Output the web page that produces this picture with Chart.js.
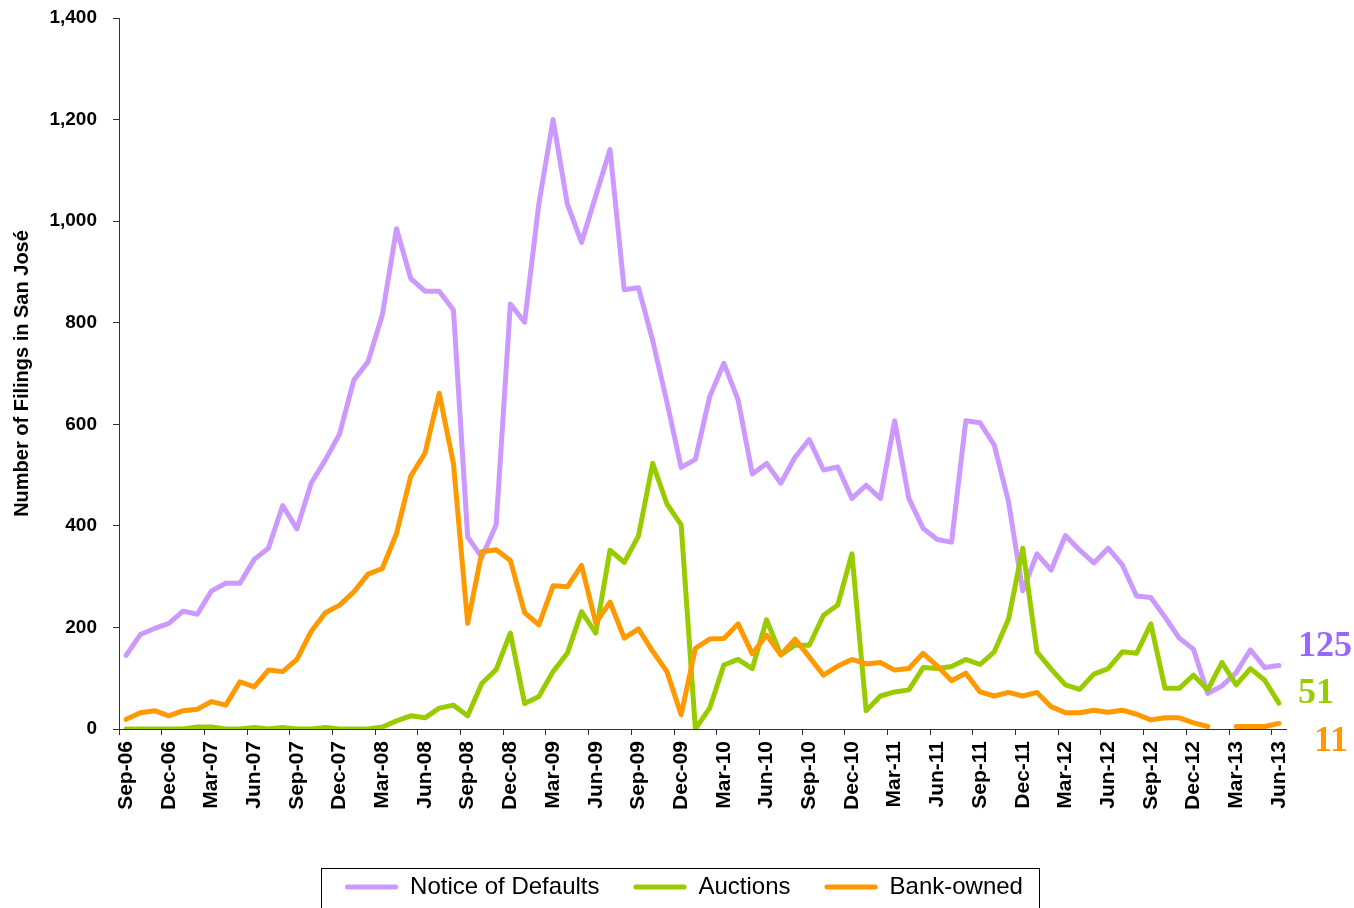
<!DOCTYPE html>
<html>
<head>
<meta charset="utf-8">
<script src="https://cdn.jsdelivr.net/npm/chart.js@4.4.1/dist/chart.umd.min.js"></script>
<style>
  html, body { margin: 0; padding: 0; background: #fff; }
  #wrap { width: 1354px; height: 908px; position: relative; }
</style>
</head>
<body>
<div id="wrap"><canvas id="chart"></canvas></div>
<script>
const months = [
  "Sep-06", "Oct-06", "Nov-06", "Dec-06",
  "Jan-07", "Feb-07", "Mar-07", "Apr-07", "May-07", "Jun-07", "Jul-07", "Aug-07", "Sep-07", "Oct-07", "Nov-07", "Dec-07",
  "Jan-08", "Feb-08", "Mar-08", "Apr-08", "May-08", "Jun-08", "Jul-08", "Aug-08", "Sep-08", "Oct-08", "Nov-08", "Dec-08",
  "Jan-09", "Feb-09", "Mar-09", "Apr-09", "May-09", "Jun-09", "Jul-09", "Aug-09", "Sep-09", "Oct-09", "Nov-09", "Dec-09",
  "Jan-10", "Feb-10", "Mar-10", "Apr-10", "May-10", "Jun-10", "Jul-10", "Aug-10", "Sep-10", "Oct-10", "Nov-10", "Dec-10",
  "Jan-11", "Feb-11", "Mar-11", "Apr-11", "May-11", "Jun-11", "Jul-11", "Aug-11", "Sep-11", "Oct-11", "Nov-11", "Dec-11",
  "Jan-12", "Feb-12", "Mar-12", "Apr-12", "May-12", "Jun-12", "Jul-12", "Aug-12", "Sep-12", "Oct-12", "Nov-12", "Dec-12",
  "Jan-13", "Feb-13", "Mar-13", "Apr-13", "May-13", "Jun-13",
];

const noticeOfDefaults = [
  145, 186, 198, 208,
  232, 226, 272, 287, 287, 334, 356, 440, 394, 484, 530, 581,
  687, 723, 815, 985, 887, 862, 862, 825, 378, 338, 402, 837,
  801, 1034, 1200, 1034, 958, 1050, 1141, 865, 869, 765, 644, 515,
  531, 654, 720, 648, 502, 523, 484, 535, 570, 510, 516, 454,
  480, 454, 607, 454, 395, 373, 368, 607, 603, 559, 448, 272,
  345, 313, 381, 352, 327, 356, 323, 262, 259, 220, 179, 157,
  70, 85, 111, 156, 121, 125,
];

const auctions = [
  0, 0, 0, 0,
  0, 4, 4, 0, 0, 3, 0, 3, 0, 0, 3, 0,
  0, 0, 4, 16, 26, 22, 41, 47, 26, 90, 117, 189,
  50, 64, 113, 149, 231, 189, 352, 328, 380, 523, 443, 402,
  0, 41, 126, 137, 119, 215, 146, 165, 165, 224, 244, 345,
  36, 65, 73, 77, 121, 119, 123, 137, 127, 152, 216, 356,
  152, 118, 87, 78, 108, 119, 152, 149, 207, 80, 80, 106,
  77, 131, 87, 119, 96, 51,
];

const bankOwned = [
  19, 32, 36, 26,
  36, 39, 54, 47, 93, 83, 116, 113, 137, 192, 229, 244,
  270, 305, 316, 385, 498, 543, 661, 523, 208, 349, 353, 332,
  229, 205, 282, 280, 322, 209, 250, 179, 197, 153, 113, 28,
  159, 177, 178, 207, 148, 185, 146, 177, 142, 106, 124, 137,
  128, 131, 116, 119, 149, 124, 95, 110, 73, 65, 72, 65,
  72, 44, 32, 32, 37, 33, 37, 29, 18, 22, 22, 12,
  5, null, 5, 5, 5, 11,
];

const seriesNames = ["Notice of Defaults", "Auctions", "Bank-owned"];
const latestValues = ["125", "51", "11"];

const COLORS = {
  nod: "#CC99FF",
  auctions: "#99CC00",
  bank: "#FF9900",
  nodLabel: "#9966FF",
  axis: "#333333",
};

Chart.defaults.font.family = '"Liberation Sans", Arial, sans-serif';
Chart.defaults.color = "#000";

// legend.labels.padding sets both the gap between entries and the box height;
// keep the wide gaps but pin the legend height so it sits at the bottom edge
const legendHeight = {
  id: "legendHeight",
  beforeLayout(chart) {
    const lg = chart.legend;
    if (!lg || lg._pinned) return;
    const fit = lg.fit;
    lg.fit = function () {
      fit.call(this);
      this.height = 67;
    };
    lg._pinned = true;
  },
};

// framed legend, like the Excel original
const legendFrame = {
  id: "legendFrame",
  afterDraw(chart) {
    const boxes = chart.legend && chart.legend.legendHitBoxes;
    if (!boxes || !boxes.length) return;
    const first = boxes[0];
    const last = boxes[boxes.length - 1];
    const left = Math.round(first.left - 24) + 0.5;
    const right = Math.round(last.left + last.width + 16) + 0.5;
    const top = Math.round(first.top - 7) + 0.5;
    const ctx = chart.ctx;
    ctx.save();
    ctx.strokeStyle = "#000";
    ctx.lineWidth = 1;
    ctx.strokeRect(left, top, right - left, 80);
    ctx.restore();
  },
};

// latest-value callouts at the right end of the lines
const endLabels = {
  id: "endLabels",
  afterDatasetsDraw(chart) {
    const { ctx, chartArea } = chart;
    const spots = [
      { dx: 12, dy: -82, color: COLORS.nodLabel },
      { dx: 12, dy: -35, color: COLORS.auctions },
      { dx: 28, dy: 13, color: COLORS.bank },
    ];
    ctx.save();
    ctx.font = 'bold 36px "Liberation Serif", "Times New Roman", serif';
    ctx.textAlign = "left";
    ctx.textBaseline = "middle";
    latestValues.forEach((txt, i) => {
      ctx.fillStyle = spots[i].color;
      ctx.fillText(txt, chartArea.right + spots[i].dx, chartArea.bottom + spots[i].dy);
    });
    ctx.restore();
  },
};

function lineSet(label, data, color, order) {
  return {
    label,
    data,
    borderColor: color,
    backgroundColor: color,
    borderWidth: 5,
    pointRadius: 0,
    pointHoverRadius: 0,
    tension: 0,
    borderJoinStyle: "round",
    borderCapStyle: "round",
    spanGaps: false,
    order,
  };
}

new Chart(document.getElementById("chart"), {
  type: "line",
  data: {
    labels: months,
    datasets: [
      lineSet(seriesNames[0], noticeOfDefaults, COLORS.nod, 2),
      lineSet(seriesNames[1], auctions, COLORS.auctions, 1),
      lineSet(seriesNames[2], bankOwned, COLORS.bank, 0),
    ],
  },
  options: {
    responsive: true,
    maintainAspectRatio: false,
    animation: false,
    layout: { padding: { top: 18, right: 0, left: 14, bottom: 0 } },
    plugins: {
      tooltip: { enabled: false },
      legend: {
        position: "bottom",
        labels: {
          boxWidth: 53,
          boxHeight: 5,
          padding: 34,
          color: "#000",
          font: { size: 24 },
          generateLabels(chart) {
            return chart.data.datasets.map((ds, i) => ({
              text: ds.label,
              fillStyle: ds.borderColor,
              strokeStyle: ds.borderColor,
              lineWidth: 0,
              borderRadius: 2,
              datasetIndex: i,
              hidden: false,
            }));
          },
        },
      },
    },
    scales: {
      x: {
        offset: true,
        border: { color: COLORS.axis, width: 1 },
        grid: {
          offset: true,
          drawOnChartArea: false,
          drawTicks: true,
          tickLength: 6,
          color: (ctx) => (ctx.index !== undefined && ctx.index % 3 === 0 ? COLORS.axis : "rgba(0,0,0,0)"),
        },
        ticks: {
          autoSkip: false,
          maxRotation: 90,
          minRotation: 90,
          padding: 6,
          color: "#000",
          font: { size: 21, weight: "bold" },
          callback: (value, index) => (index % 3 === 0 ? months[index] : ""),
        },
        afterFit(scale) {
          scale.height = 112;
          scale.paddingRight = 68; // room for the value callouts
        },
      },
      y: {
        min: 0,
        max: 1400,
        border: { color: COLORS.axis, width: 1 },
        grid: { drawOnChartArea: false, drawTicks: true, tickLength: 6, color: COLORS.axis },
        ticks: {
          stepSize: 200,
          padding: 16,
          color: "#000",
          font: { size: 19, weight: "bold" },
          callback: (v) => Number(v).toLocaleString("en-US"),
        },
        title: {
          display: true,
          text: "Number of Filings in San José",
          color: "#000",
          font: { size: 20, weight: "bold" },
          padding: { top: -4, bottom: 0 },
        },
        afterFit(scale) {
          scale.width = 105;
          scale.paddingTop = 0;
          scale.paddingBottom = 0;
        },
      },
    },
  },
  plugins: [legendHeight, legendFrame, endLabels],
});
</script>
</body>
</html>
